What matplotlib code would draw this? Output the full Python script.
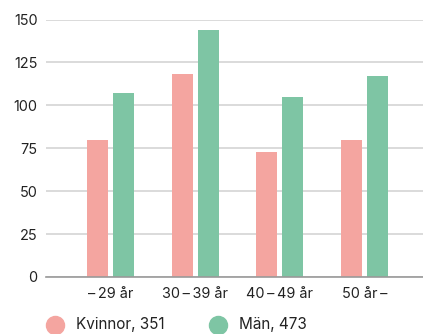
import matplotlib.pyplot as plt
from matplotlib.lines import Line2D
import numpy as np

plt.rcParams['font.family'] = ['Inter', 'DejaVu Sans']

categories = ["\u2013\u200929 år", "30\u2009\u2013\u200939 år", "40\u2009\u2013\u200949 år", "50 år\u2009\u2013"]
kvinnor = [80, 118, 73, 80]
man = [107, 144, 105, 117]
series_labels = ["Kvinnor, 351", "Män, 473"]
colors = ["#F4A5A0", "#7EC5A4"]

W, H = 423, 334
fig = plt.figure(figsize=(W / 100, H / 100), dpi=100)
ax = fig.add_axes([46 / W, 1 - 277 / H, 1 - 46 / W, (277 - 19.5) / H])

x = np.arange(len(categories))
bw = 21 / 84.7
gap = 5 / 84.7
ax.bar(x - (bw + gap) / 2, kvinnor, width=bw, color=colors[0], zorder=3)
ax.bar(x + (bw + gap) / 2, man, width=bw, color=colors[1], zorder=3)

ax.set_xlim(-64.5 / 84.7, 3 + 58.5 / 84.7)
ax.set_ylim(0, 150)
ax.set_yticks(range(0, 151, 25))
ax.set_xticks(x)
ax.set_xticklabels(categories)
ax.yaxis.grid(True, color="#d4d4d4", linewidth=1.2, zorder=0)
for s in ["top", "right", "left"]:
    ax.spines[s].set_visible(False)
ax.spines["bottom"].set_color("#999999")
ax.spines["bottom"].set_linewidth(1.2)
ax.spines["bottom"].set_zorder(4)
ax.tick_params(axis="both", length=0, labelsize=10.4, colors="#222222")
ax.tick_params(axis="y", pad=6)
ax.tick_params(axis="x", pad=7)

# legend
for cx, label, c in [(55, series_labels[0], colors[0]), (218, series_labels[1], colors[1])]:
    fig.add_artist(Line2D([cx / W], [1 - 325 / H], marker="o", markersize=13,
                          color=c, linestyle="none", transform=fig.transFigure))
    fig.text((cx + 21) / W, 1 - 325 / H, label, fontsize=11, color="#222222",
             va="center", ha="left")

fig.savefig("out.png", dpi=100)
